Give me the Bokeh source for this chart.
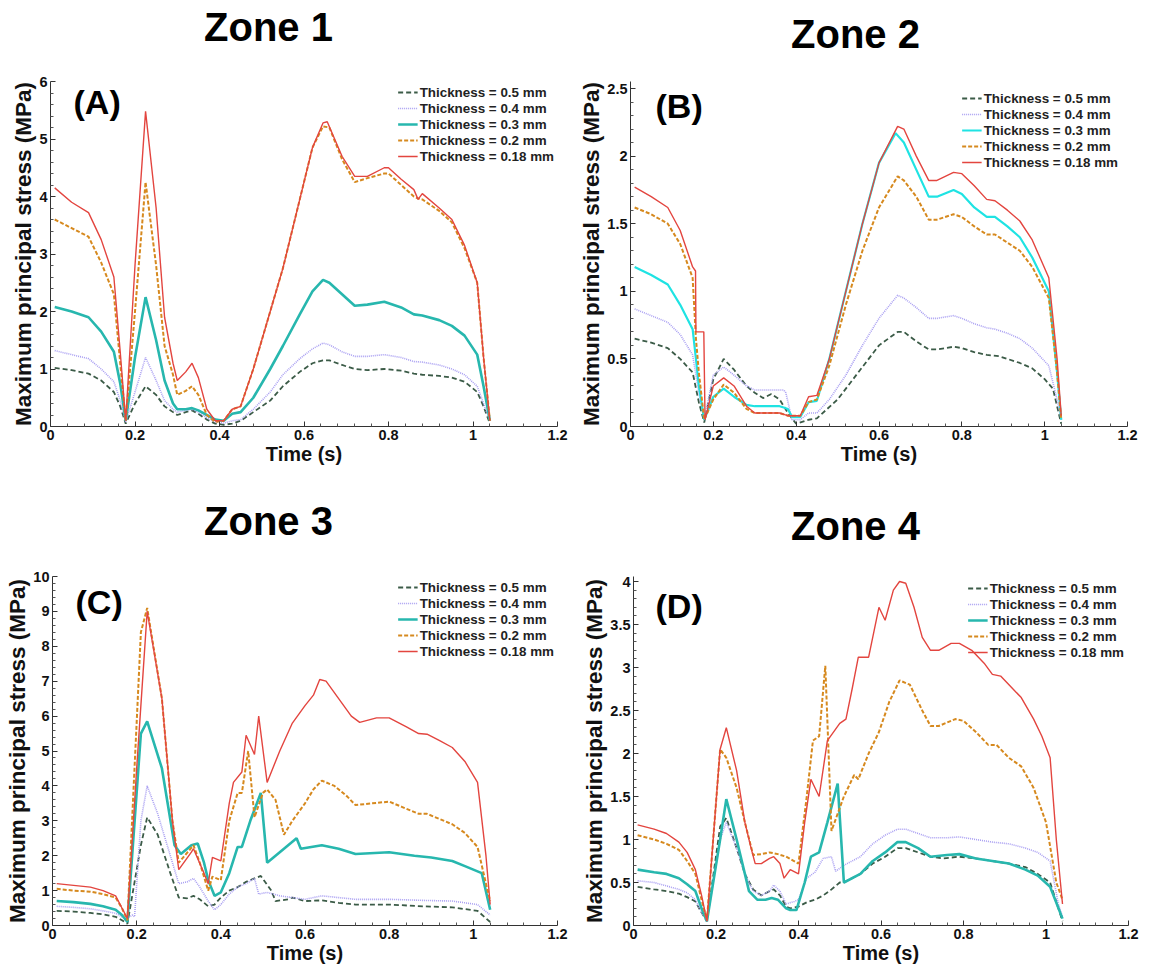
import numpy as np
from bokeh.plotting import figure
from bokeh.models import Range1d, FixedTicker, NumeralTickFormatter, Label
from bokeh.layouts import column, row
from bokeh.embed import file_html
from bokeh.resources import INLINE

# ---------------- data (time s, max principal stress MPa) ----------------
thickness_labels = ["Thickness = 0.5 mm", "Thickness = 0.4 mm", "Thickness = 0.3 mm",
                    "Thickness = 0.2 mm", "Thickness = 0.18 mm"]
zone_titles = ["Zone 1", "Zone 2", "Zone 3", "Zone 4"]
panel_letters = ["(A)", "(B)", "(C)", "(D)"]
y_max = [6, 2.5, 10, 4]
y_step = [1, 0.5, 1, 0.5]
x_ticks = [0, 0.2, 0.4, 0.6, 0.8, 1.0, 1.2]

z1_050 = [(0.01,1.02),(0.05,0.98),(0.09,0.92),(0.12,0.8),(0.15,0.6),(0.165,0.35),(0.178,0.05),(0.20,0.4),(0.225,0.7),(0.25,0.55),(0.27,0.35),(0.29,0.25),(0.30,0.2),(0.32,0.25),(0.335,0.28),(0.35,0.22),(0.37,0.12),(0.39,0.05),(0.41,0.03),(0.43,0.05),(0.45,0.1),(0.48,0.25),(0.52,0.45),(0.55,0.7),(0.59,0.95),(0.62,1.1),(0.645,1.15),(0.66,1.15),(0.69,1.07),(0.72,1.0),(0.75,0.98),(0.79,1.0),(0.83,0.97),(0.86,0.92),(0.88,0.9),(0.92,0.88),(0.95,0.85),(0.98,0.78),(1.01,0.6),(1.025,0.35),(1.04,0.05)]
z1_040 = [(0.01,1.32),(0.05,1.25),(0.09,1.18),(0.12,1.0),(0.15,0.78),(0.165,0.45),(0.178,0.08),(0.20,0.6),(0.225,1.2),(0.25,0.8),(0.27,0.45),(0.29,0.3),(0.30,0.25),(0.32,0.28),(0.335,0.3),(0.35,0.25),(0.37,0.15),(0.39,0.08),(0.41,0.06),(0.43,0.1),(0.45,0.12),(0.48,0.3),(0.52,0.6),(0.55,0.9),(0.59,1.18),(0.62,1.35),(0.645,1.45),(0.66,1.42),(0.69,1.3),(0.72,1.22),(0.75,1.22),(0.79,1.25),(0.83,1.2),(0.86,1.13),(0.88,1.12),(0.92,1.07),(0.95,1.0),(0.98,0.9),(1.01,0.7),(1.025,0.4),(1.04,0.1)]
z1_030 = [(0.01,2.08),(0.05,2.0),(0.09,1.9),(0.12,1.65),(0.15,1.3),(0.165,0.75),(0.178,0.1),(0.20,1.2),(0.225,2.25),(0.25,1.5),(0.27,0.8),(0.29,0.4),(0.30,0.3),(0.32,0.3),(0.335,0.32),(0.35,0.28),(0.37,0.2),(0.39,0.12),(0.41,0.1),(0.43,0.22),(0.45,0.25),(0.48,0.5),(0.52,1.0),(0.55,1.4),(0.59,1.95),(0.62,2.35),(0.645,2.55),(0.66,2.5),(0.69,2.3),(0.72,2.1),(0.75,2.12),(0.79,2.17),(0.83,2.07),(0.86,1.95),(0.88,1.93),(0.92,1.85),(0.95,1.75),(0.98,1.58),(1.01,1.25),(1.025,0.7),(1.04,0.1)]
z1_020 = [(0.01,3.6),(0.05,3.45),(0.09,3.3),(0.12,2.85),(0.15,2.3),(0.165,1.1),(0.178,0.1),(0.20,2.0),(0.225,4.25),(0.25,2.8),(0.27,1.4),(0.29,0.9),(0.30,0.55),(0.32,0.62),(0.335,0.7),(0.35,0.55),(0.37,0.2),(0.39,0.08),(0.41,0.1),(0.43,0.3),(0.45,0.35),(0.48,1.0),(0.52,2.0),(0.55,2.75),(0.59,3.95),(0.62,4.85),(0.645,5.22),(0.66,5.2),(0.69,4.65),(0.72,4.25),(0.75,4.32),(0.79,4.4),(0.80,4.4),(0.83,4.2),(0.86,4.0),(0.875,3.95),(0.88,3.95),(0.92,3.75),(0.95,3.55),(0.98,3.1),(1.01,2.5),(1.025,1.2),(1.04,0.1)]
z1_018 = [(0.01,4.15),(0.05,3.9),(0.09,3.72),(0.12,3.25),(0.15,2.6),(0.165,1.3),(0.178,0.1),(0.20,2.8),(0.225,5.48),(0.25,3.8),(0.27,1.9),(0.29,1.1),(0.30,0.8),(0.32,0.95),(0.335,1.1),(0.35,0.85),(0.37,0.3),(0.39,0.1),(0.41,0.1),(0.43,0.3),(0.45,0.35),(0.48,1.0),(0.52,2.0),(0.55,2.75),(0.59,3.95),(0.62,4.85),(0.645,5.28),(0.655,5.3),(0.69,4.7),(0.72,4.35),(0.75,4.35),(0.79,4.5),(0.80,4.5),(0.83,4.3),(0.86,4.12),(0.87,3.95),(0.88,4.05),(0.92,3.8),(0.95,3.6),(0.98,3.15),(1.01,2.5),(1.025,1.2),(1.04,0.1)]

z2_050 = [(0.01,0.65),(0.05,0.62),(0.09,0.58),(0.12,0.5),(0.15,0.4),(0.165,0.18),(0.178,0.03),(0.20,0.35),(0.225,0.5),(0.25,0.42),(0.28,0.3),(0.30,0.25),(0.32,0.21),(0.34,0.24),(0.36,0.2),(0.38,0.1),(0.40,0.02),(0.43,0.05),(0.45,0.06),(0.50,0.2),(0.55,0.4),(0.60,0.6),(0.645,0.7),(0.66,0.7),(0.69,0.63),(0.72,0.57),(0.74,0.57),(0.78,0.59),(0.80,0.58),(0.83,0.55),(0.86,0.53),(0.89,0.52),(0.91,0.5),(0.94,0.47),(0.97,0.43),(1.0,0.35),(1.02,0.28),(1.04,0.02)]
z2_040 = [(0.01,0.87),(0.05,0.82),(0.09,0.77),(0.12,0.68),(0.15,0.53),(0.165,0.25),(0.178,0.05),(0.20,0.38),(0.225,0.44),(0.25,0.38),(0.28,0.3),(0.30,0.27),(0.37,0.27),(0.375,0.25),(0.39,0.05),(0.41,0.05),(0.43,0.1),(0.45,0.1),(0.48,0.2),(0.52,0.38),(0.56,0.6),(0.60,0.8),(0.645,0.97),(0.66,0.95),(0.69,0.88),(0.72,0.8),(0.74,0.8),(0.78,0.82),(0.80,0.8),(0.83,0.76),(0.86,0.73),(0.88,0.72),(0.91,0.69),(0.94,0.65),(0.97,0.58),(1.01,0.45),(1.03,0.2),(1.04,0.05)]
z2_030 = [(0.01,1.18),(0.05,1.12),(0.09,1.05),(0.12,0.9),(0.15,0.72),(0.158,0.5),(0.165,0.3),(0.178,0.05),(0.20,0.22),(0.225,0.28),(0.25,0.22),(0.28,0.16),(0.30,0.15),(0.36,0.15),(0.37,0.14),(0.38,0.13),(0.39,0.07),(0.41,0.07),(0.43,0.18),(0.45,0.19),(0.48,0.5),(0.52,1.0),(0.56,1.5),(0.60,1.95),(0.64,2.17),(0.66,2.1),(0.69,1.9),(0.72,1.7),(0.74,1.7),(0.78,1.75),(0.80,1.72),(0.83,1.62),(0.86,1.55),(0.88,1.55),(0.91,1.48),(0.94,1.4),(0.97,1.25),(1.01,1.0),(1.03,0.4),(1.04,0.05)]
z2_020 = [(0.01,1.62),(0.05,1.57),(0.09,1.5),(0.12,1.35),(0.15,1.1),(0.158,0.65),(0.165,0.4),(0.178,0.05),(0.20,0.2),(0.225,0.31),(0.25,0.25),(0.28,0.13),(0.30,0.1),(0.36,0.1),(0.38,0.08),(0.41,0.08),(0.43,0.18),(0.45,0.2),(0.48,0.45),(0.52,0.9),(0.56,1.3),(0.60,1.62),(0.645,1.85),(0.66,1.82),(0.69,1.7),(0.72,1.53),(0.74,1.53),(0.78,1.57),(0.80,1.55),(0.83,1.48),(0.86,1.42),(0.88,1.42),(0.91,1.36),(0.94,1.3),(0.97,1.18),(1.01,0.95),(1.03,0.4),(1.04,0.05)]
z2_018 = [(0.01,1.77),(0.05,1.7),(0.09,1.62),(0.12,1.45),(0.15,1.18),(0.157,1.15),(0.158,0.7),(0.177,0.7),(0.18,0.05),(0.20,0.3),(0.225,0.36),(0.25,0.3),(0.28,0.15),(0.30,0.1),(0.36,0.1),(0.37,0.09),(0.38,0.08),(0.41,0.08),(0.43,0.22),(0.45,0.23),(0.48,0.5),(0.52,1.0),(0.56,1.5),(0.60,1.95),(0.645,2.22),(0.66,2.2),(0.69,2.0),(0.72,1.82),(0.74,1.82),(0.78,1.88),(0.80,1.87),(0.83,1.78),(0.86,1.68),(0.88,1.67),(0.91,1.6),(0.94,1.52),(0.97,1.38),(1.01,1.1),(1.03,0.5),(1.04,0.08)]

z3_050 = [(0.01,0.42),(0.05,0.4),(0.09,0.36),(0.12,0.32),(0.15,0.25),(0.165,0.15),(0.178,0.05),(0.21,2.3),(0.225,3.1),(0.25,2.6),(0.28,1.5),(0.30,0.8),(0.32,0.78),(0.335,0.85),(0.35,0.75),(0.37,0.55),(0.385,0.6),(0.40,0.8),(0.42,1.0),(0.44,1.1),(0.46,1.25),(0.48,1.35),(0.495,1.42),(0.52,1.0),(0.53,0.7),(0.56,0.75),(0.57,0.8),(0.60,0.7),(0.64,0.72),(0.68,0.65),(0.72,0.6),(0.80,0.6),(0.88,0.55),(0.95,0.52),(1.01,0.42),(1.04,0.1)]
z3_040 = [(0.01,0.55),(0.05,0.52),(0.09,0.48),(0.12,0.42),(0.15,0.35),(0.165,0.25),(0.178,0.2),(0.19,0.3),(0.195,0.25),(0.21,3.0),(0.225,4.0),(0.25,3.2),(0.28,2.0),(0.30,1.2),(0.32,1.25),(0.335,1.35),(0.35,1.1),(0.37,0.7),(0.385,0.45),(0.40,0.6),(0.42,0.9),(0.44,1.1),(0.46,1.2),(0.48,1.35),(0.49,0.9),(0.51,0.95),(0.54,0.85),(0.57,0.8),(0.60,0.75),(0.64,0.85),(0.68,0.8),(0.72,0.75),(0.80,0.75),(0.88,0.72),(0.95,0.7),(1.01,0.6),(1.04,0.3)]
z3_030 = [(0.01,0.7),(0.05,0.67),(0.09,0.62),(0.12,0.55),(0.15,0.45),(0.165,0.3),(0.178,0.1),(0.21,5.5),(0.225,5.85),(0.26,4.5),(0.29,2.3),(0.305,2.05),(0.33,2.3),(0.345,2.35),(0.36,1.8),(0.37,1.3),(0.385,0.85),(0.40,0.95),(0.42,1.5),(0.44,2.25),(0.45,2.25),(0.47,3.0),(0.495,3.8),(0.51,1.8),(0.55,2.2),(0.58,2.5),(0.59,2.2),(0.64,2.3),(0.68,2.2),(0.72,2.05),(0.80,2.1),(0.86,2.0),(0.90,1.95),(0.95,1.85),(0.98,1.7),(1.02,1.5),(1.04,0.45)]
z3_020 = [(0.01,1.05),(0.05,1.0),(0.09,0.97),(0.12,0.9),(0.15,0.8),(0.165,0.5),(0.178,0.15),(0.21,8.4),(0.225,9.1),(0.26,6.5),(0.285,3.0),(0.30,1.8),(0.335,2.3),(0.35,1.8),(0.37,1.0),(0.38,1.4),(0.40,1.3),(0.42,3.0),(0.44,3.8),(0.45,3.8),(0.465,5.0),(0.48,3.1),(0.50,3.8),(0.51,3.9),(0.53,3.6),(0.55,2.6),(0.57,3.0),(0.60,3.5),(0.62,3.9),(0.64,4.15),(0.67,4.0),(0.70,3.7),(0.72,3.45),(0.76,3.5),(0.80,3.55),(0.83,3.4),(0.87,3.2),(0.89,3.2),(0.92,3.05),(0.95,2.9),(0.98,2.65),(1.01,2.25),(1.03,1.2),(1.04,0.7)]
z3_018 = [(0.01,1.2),(0.05,1.15),(0.09,1.1),(0.12,1.0),(0.15,0.85),(0.165,0.5),(0.178,0.2),(0.20,4.5),(0.225,9.0),(0.26,6.5),(0.285,3.0),(0.30,1.6),(0.33,2.1),(0.335,2.2),(0.36,1.5),(0.37,1.2),(0.38,1.95),(0.40,1.85),(0.42,3.5),(0.43,4.1),(0.45,4.4),(0.46,5.45),(0.48,4.9),(0.49,6.0),(0.51,4.1),(0.54,5.0),(0.57,5.8),(0.60,6.3),(0.62,6.6),(0.635,7.05),(0.65,7.0),(0.68,6.5),(0.71,6.0),(0.73,5.82),(0.77,5.95),(0.80,5.95),(0.84,5.7),(0.87,5.5),(0.89,5.48),(0.92,5.3),(0.95,5.1),(0.98,4.7),(1.01,4.1),(1.03,2.0),(1.04,0.6)]

z4_050 = [(0.01,0.45),(0.05,0.42),(0.08,0.4),(0.11,0.37),(0.13,0.33),(0.15,0.28),(0.165,0.15),(0.178,0.05),(0.21,1.15),(0.225,1.25),(0.25,0.9),(0.27,0.6),(0.29,0.42),(0.31,0.35),(0.33,0.4),(0.34,0.42),(0.355,0.35),(0.37,0.22),(0.38,0.2),(0.40,0.22),(0.42,0.27),(0.44,0.3),(0.46,0.35),(0.48,0.42),(0.50,0.5),(0.51,0.5),(0.55,0.6),(0.58,0.72),(0.61,0.8),(0.64,0.9),(0.66,0.9),(0.69,0.85),(0.72,0.8),(0.75,0.78),(0.79,0.8),(0.83,0.78),(0.87,0.75),(0.91,0.72),(0.95,0.68),(0.98,0.6),(1.01,0.5),(1.03,0.2),(1.04,0.05)]
z4_040 = [(0.01,0.52),(0.05,0.5),(0.08,0.46),(0.11,0.42),(0.13,0.38),(0.15,0.3),(0.165,0.15),(0.178,0.05),(0.21,1.0),(0.225,1.2),(0.25,0.9),(0.27,0.6),(0.29,0.4),(0.31,0.35),(0.33,0.4),(0.34,0.47),(0.355,0.4),(0.37,0.25),(0.39,0.28),(0.40,0.3),(0.42,0.55),(0.44,0.62),(0.46,0.78),(0.48,0.8),(0.49,0.63),(0.51,0.7),(0.55,0.8),(0.58,0.95),(0.61,1.05),(0.64,1.12),(0.66,1.12),(0.69,1.07),(0.72,1.02),(0.76,1.02),(0.79,1.03),(0.83,1.0),(0.87,0.97),(0.91,0.95),(0.95,0.9),(0.98,0.85),(1.01,0.75),(1.03,0.25),(1.04,0.1)]
z4_030 = [(0.01,0.65),(0.05,0.62),(0.08,0.6),(0.11,0.55),(0.13,0.48),(0.15,0.4),(0.165,0.2),(0.178,0.05),(0.21,1.0),(0.225,1.47),(0.25,1.0),(0.27,0.6),(0.28,0.4),(0.30,0.3),(0.32,0.3),(0.335,0.32),(0.35,0.3),(0.37,0.2),(0.38,0.18),(0.395,0.18),(0.415,0.5),(0.43,0.8),(0.45,0.85),(0.47,1.2),(0.495,1.65),(0.51,0.5),(0.55,0.6),(0.58,0.75),(0.61,0.85),(0.64,0.97),(0.66,0.97),(0.69,0.9),(0.72,0.8),(0.76,0.82),(0.79,0.83),(0.83,0.78),(0.87,0.75),(0.91,0.72),(0.95,0.65),(0.98,0.58),(1.01,0.45),(1.04,0.08)]
z4_020 = [(0.01,1.05),(0.05,1.0),(0.08,0.95),(0.11,0.88),(0.13,0.75),(0.15,0.6),(0.165,0.3),(0.178,0.06),(0.21,2.05),(0.225,1.95),(0.25,1.6),(0.27,1.2),(0.29,0.82),(0.31,0.83),(0.33,0.85),(0.35,0.83),(0.37,0.8),(0.40,0.72),(0.42,1.5),(0.435,2.15),(0.45,2.2),(0.465,3.02),(0.48,1.1),(0.51,1.5),(0.535,1.75),(0.545,1.7),(0.57,2.0),(0.595,2.25),(0.62,2.6),(0.645,2.85),(0.67,2.8),(0.70,2.5),(0.72,2.32),(0.74,2.32),(0.78,2.4),(0.80,2.38),(0.83,2.25),(0.86,2.1),(0.88,2.1),(0.91,1.95),(0.94,1.85),(0.97,1.6),(1.0,1.2),(1.025,0.5),(1.04,0.3)]
z4_018 = [(0.01,1.17),(0.05,1.12),(0.08,1.07),(0.11,0.97),(0.13,0.85),(0.15,0.65),(0.165,0.35),(0.178,0.05),(0.21,2.05),(0.225,2.3),(0.25,1.8),(0.27,1.2),(0.285,0.9),(0.295,0.72),(0.31,0.72),(0.33,0.78),(0.34,0.8),(0.355,0.72),(0.365,0.55),(0.38,0.65),(0.40,0.6),(0.415,1.2),(0.43,1.7),(0.45,1.5),(0.47,2.15),(0.50,2.35),(0.515,2.4),(0.53,2.75),(0.545,3.12),(0.57,3.12),(0.595,3.7),(0.61,3.55),(0.63,3.9),(0.645,4.0),(0.66,3.98),(0.68,3.7),(0.70,3.35),(0.72,3.2),(0.74,3.2),(0.77,3.28),(0.79,3.28),(0.82,3.2),(0.85,3.05),(0.87,2.92),(0.89,2.9),(0.92,2.75),(0.94,2.65),(0.97,2.4),(0.99,2.2),(1.01,1.95),(1.025,1.0),(1.04,0.25)]

zones = [
    [z1_050, z1_040, z1_030, z1_020, z1_018],
    [z2_050, z2_040, z2_030, z2_020, z2_018],
    [z3_050, z3_040, z3_030, z3_020, z3_018],
    [z4_050, z4_040, z4_030, z4_020, z4_018],
]

# ---------------- styles / layout ----------------
FONT = "Liberation Sans"
line_colors = ["#3b5b47", "#a99ff2", "#27b7ae", "#d6891e", "#e3453f"]
line_widths = [1.8, 1.6, 2.6, 2.0, 1.4]
line_dashes = ["5 3", "1 1", "solid", "4 2", "solid"]

widths = [574, 575, 574, 575]
title_h = [64, 64, 72, 72]
frame_top = [81, 81, 93, 93]   # frame top inside each 483-px-tall row
# plot figure: (border left, right, bottom)
borders = [(50, 17, 57), (56, 22, 57), (52, 17, 41), (59, 21, 41)]
top_tick_gap = [0, 7, 0, 5]
title_xy = [(268, 26), (281, 33), (268, 37.5), (281, 42.5)]
letter_px = [(23, 20.5), (25, 24), (23, 25.5), (22, 29.5)]
legend_margin = [3, 9, 3, 4]


def make_title(i):
    w, th = widths[i], title_h[i]
    t = figure(width=w, height=th, output_backend="svg", toolbar_location=None,
               x_range=Range1d(0, w), y_range=Range1d(th, 0),
               x_axis_type=None, y_axis_type=None, min_border=0)
    t.outline_line_color = None
    t.background_fill_color = "white"
    t.border_fill_color = "white"
    tx, ty = title_xy[i]
    t.add_layout(Label(x=tx, y=ty, text=zone_titles[i], text_font=FONT,
                       text_font_style="bold", text_font_size="40px",
                       text_align="center", text_baseline="middle", text_color="black"))
    return t


def make_panel(i):
    w = widths[i]
    h = 483 - title_h[i]
    bl, br, bb = borders[i]
    bt = frame_top[i] - title_h[i]
    fw = w - bl - br
    fh = h - bt - bb
    ytop = y_max[i] * fh / (fh - top_tick_gap[i])
    p = figure(width=w, height=h, output_backend="svg", toolbar_location=None,
               x_range=Range1d(0, 1.2), y_range=Range1d(0, ytop),
               min_border_left=bl, min_border_right=br, min_border_top=bt,
               min_border_bottom=bb)
    p.outline_line_color = None
    p.xgrid.visible = False
    p.ygrid.visible = False
    p.background_fill_color = "white"
    p.border_fill_color = "white"

    for k, series in enumerate(zones[i]):
        t = [a for a, _ in series]
        s = [b for _, b in series]
        color = line_colors[k]
        width = line_widths[k]
        if i == 1 and k == 2:
            color = "#1fe3e3"
            width = 2.2
        p.line(t, s, line_color=color, line_width=width, line_dash=line_dashes[k],
               legend_label=thickness_labels[k])

    nticks = int(round(y_max[i] / y_step[i]))
    yt = [round(j * y_step[i], 3) for j in range(nticks + 1)]
    ym = [round(v, 4) for v in np.arange(0, y_max[i] + 1e-9, y_step[i] / 5)
          if all(abs(v - q) > 1e-6 for q in yt)]
    xm = [round(v, 4) for v in np.arange(0, 1.2 + 1e-9, 0.04)
          if all(abs(v - q) > 1e-6 for q in x_ticks)]
    p.xaxis.ticker = FixedTicker(ticks=x_ticks, minor_ticks=xm)
    p.yaxis.ticker = FixedTicker(ticks=yt, minor_ticks=ym)
    for ax in (p.xaxis, p.yaxis):
        ax.formatter = NumeralTickFormatter(format="0.[0]")
        ax.major_tick_in = 5
        ax.major_tick_out = 0
        ax.minor_tick_in = 3
        ax.minor_tick_out = 0
        ax.axis_line_color = "#333333"
        ax.major_tick_line_color = "#333333"
        ax.minor_tick_line_color = "#555555"
        ax.major_label_text_font = FONT
        ax.major_label_text_font_style = "bold"
        ax.major_label_text_font_size = "14.5px"
        ax.major_label_text_color = "#111111"
        ax.major_label_standoff = 3
        ax.axis_label_text_font = FONT
        ax.axis_label_text_font_style = "bold"
        ax.axis_label_text_color = "#111111"
        ax.axis_label_standoff = 0
    p.xaxis.axis_label = "Time (s)"
    p.xaxis.axis_label_text_font_size = "20px"
    p.yaxis.axis_label = "Maximum principal stress (MPa)"
    p.yaxis.axis_label_text_font_size = "22.5px"

    lg = p.legend[0]
    lg.location = "top_right"
    lg.margin = legend_margin[i]
    lg.padding = 0
    lg.spacing = 0
    lg.border_line_color = None
    lg.background_fill_alpha = 0
    lg.label_text_font = FONT
    lg.label_text_font_style = "bold"
    lg.label_text_font_size = "13.4px"
    lg.label_text_color = "#222222"
    lg.label_height = 16
    lg.glyph_height = 16
    lg.glyph_width = 20
    lg.label_standoff = 2

    lx, ly = letter_px[i]
    p.add_layout(Label(x=1.2 * lx / fw, y=ytop * (1 - ly / fh), text=panel_letters[i],
                       text_font=FONT, text_font_style="bold", text_font_size="34px",
                       text_align="left", text_baseline="middle", text_color="black"))
    return p


titles = [make_title(i) for i in range(4)]
panels = [make_panel(i) for i in range(4)]
layout = column(row(titles[0], titles[1]), row(panels[0], panels[1]),
                row(titles[2], titles[3]), row(panels[2], panels[3]))

open("out.html", "w").write(file_html(layout, INLINE))
